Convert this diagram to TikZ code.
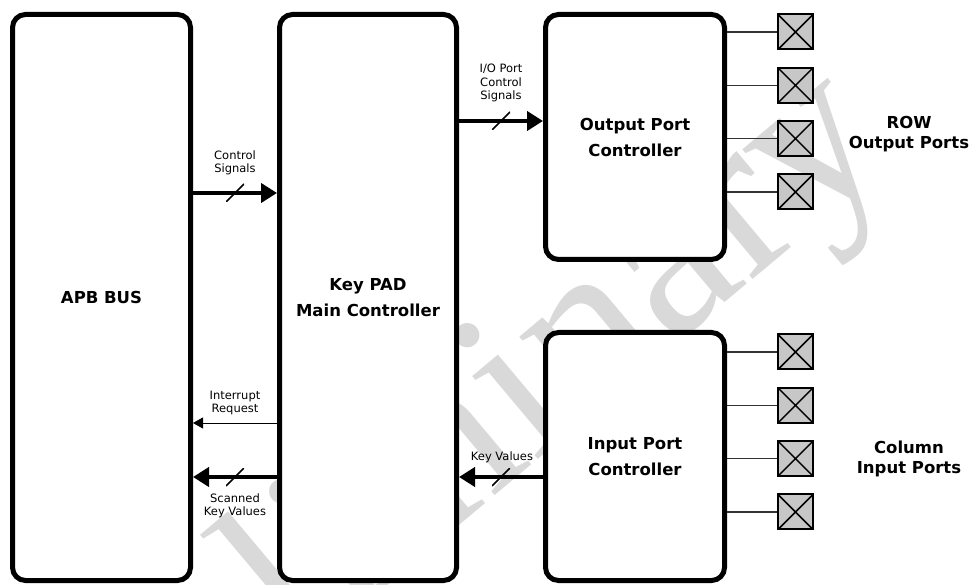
\documentclass[tikz,border=0pt]{standalone}
\usepackage{fontspec}
\setmainfont{DejaVu Sans}
\newfontfamily\wmfont{Liberation Serif}
\usetikzlibrary{arrows.meta}

\begin{document}
\begin{tikzpicture}[x=1pt, y=1pt,
    block/.style={draw, line width=5pt, rounded corners=13pt, fill=white, align=center,
      font=\fontsize{16.5}{26}\selectfont\bfseries},
    port/.style={draw, line width=2pt, fill=black!22, minimum size=35pt, inner sep=0pt,
      path picture={\draw[-, line width=1.5pt]
        (path picture bounding box.south west) -- (path picture bounding box.north east)
        (path picture bounding box.north west) -- (path picture bounding box.south east);}},
    bus/.style={line width=4pt, -{Triangle[length=16pt, width=19pt]}},
    wire/.style={line width=1pt, -{Triangle[length=10pt, width=11pt]}},
    tickmark/.style={minimum size=18pt, inner sep=0pt,
      path picture={\draw[-, line width=1.6pt]
        (path picture bounding box.south west) -- (path picture bounding box.north east);}},
    lbl/.style={align=center, font=\fontsize{11.5}{13.5}\selectfont},
    ttl/.style={align=center, font=\fontsize{16.5}{20}\selectfont\bfseries}]
    \useasboundingbox (0,0) rectangle (971,584);

    % ---------- watermark ----------
    \node[text=gray!30, font=\wmfont\fontsize{230}{230}\selectfont, rotate=40] (wm) at (445,118) {Preliminary};

    % ---------- blocks ----------
    \node[block, minimum width=178pt, minimum height=566pt] (apb) at (101.5,286.5) {APB BUS};
    \node[block, minimum width=177pt, minimum height=566pt] (main) at (368,286.5) {Key PAD\\Main Controller};
    \node[block, minimum width=179pt, minimum height=245pt] (out) at (635,447) {Output Port\\Controller};
    \node[block, minimum width=179pt, minimum height=248pt] (in) at (635,127.5) {Input Port\\Controller};

    % ---------- row / column ports ----------
    \foreach \i in {1,...,4} {
      \node[port] (op\i) at (795.5,{552-53.33*(\i-1)}) {};
      \draw[line width=1.2pt, black!80] (out.east |- op\i) -- (op\i.west);
      \node[port] (ip\i) at (795.5,{232-53.33*(\i-1)}) {};
      \draw[line width=1.2pt, black!80] (in.east |- ip\i) -- (ip\i.west);
    }
    \node[ttl] (rowlbl) at (909,450) {ROW\\Output Ports};
    \node[ttl] (collbl) at (909,125) {Column\\Input Ports};

    % ---------- signals ----------
    \coordinate (yctl) at (0,391);
    \coordinate (yio) at (0,463);
    \coordinate (yirq) at (0,161);
    \coordinate (ykey) at (0,107);

    \draw[bus] (apb.east |- yctl) -- node[tickmark] {} (main.west |- yctl);
    \node[lbl] (ctllbl) at (235,421) {Control\\Signals};

    \draw[bus] (main.east |- yio) -- node[tickmark] {} (out.west |- yio);
    \node[lbl] (iolbl) at (501,501) {I/O Port\\Control\\Signals};

    \draw[wire] (main.west |- yirq) -- (apb.east |- yirq);
    \node[lbl] (irqlbl) at (235,181) {Interrupt\\Request};

    \draw[bus] (main.west |- ykey) -- node[tickmark] {} (apb.east |- ykey);
    \node[lbl] (scanlbl) at (235,78) {Scanned\\Key Values};

    \draw[bus] (in.west |- ykey) -- node[tickmark] {} (main.east |- ykey);
    \node[lbl] (keylbl) at (502,127) {Key Values};
\end{tikzpicture}
\end{document}
